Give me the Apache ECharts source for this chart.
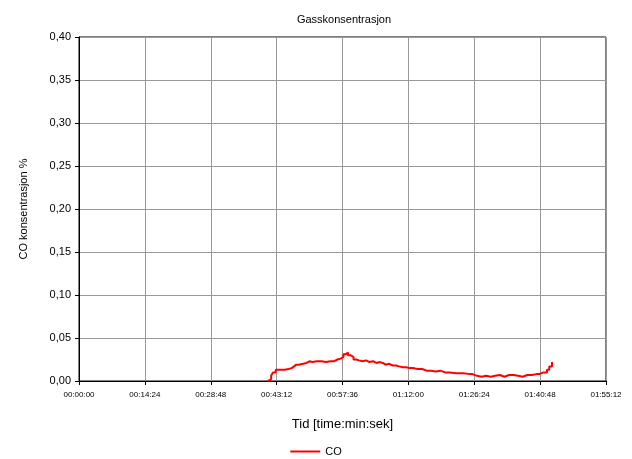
<!DOCTYPE html>
<html><head><meta charset="utf-8">
<script src="https://cdn.jsdelivr.net/npm/echarts@6/dist/echarts.min.js"></script>
<style>html,body{margin:0;padding:0;background:#fff}#c{width:632px;height:459px}</style>
</head><body><div id="c"></div>
<script>
// time in minutes since start
const timeMin = [41.3,41.6,42.0,42.4,43.0,44.0,45.0,45.8,46.5,47.0,47.5,48.0,49.0,49.7,50.5,51.0,52.0,53.0,54.0,55.0,55.8,56.5,57.2,57.8,58.3,58.8,59.3,60.0,60.6,61.2,62.0,62.8,63.5,64.3,65.0,65.8,66.4,67.0,67.8,68.6,69.3,70.0,70.8,71.5,72.3,73.0,74.0,75.0,76.0,77.0,78.0,79.0,80.0,81.0,82.5,84.0,85.5,86.0,87.0,88.0,89.0,90.0,91.0,92.0,93.0,94.0,95.0,96.0,97.0,98.0,99.0,100.0,100.6,101.5,102.3,102.8,103.4];
const coValues = [0,0.002,0.006,0.010,0.013,0.013,0.014,0.015,0.017,0.019,0.019,0.020,0.021,0.023,0.022,0.023,0.023,0.022,0.023,0.023,0.025,0.026,0.028,0.031,0.033,0.030,0.028,0.025,0.024,0.023,0.024,0.022,0.023,0.021,0.022,0.021,0.019,0.020,0.018,0.018,0.017,0.016,0.016,0.015,0.015,0.014,0.014,0.012,0.012,0.011,0.012,0.010,0.010,0.009,0.009,0.008,0.008,0.006,0.005,0.006,0.005,0.006,0.007,0.005,0.007,0.007,0.006,0.005,0.007,0.007,0.008,0.008,0.010,0.010,0.013,0.017,0.022];
const titleText = 'Gasskonsentrasjon';
const xName = 'Tid [time:min:sek]';
const yName = 'CO konsentrasjon %';
const seriesName = 'CO';

function fmtTime(m){
  const s = Math.round(m*60);
  const h = Math.floor(s/3600), mm = Math.floor((s%3600)/60), ss = s%60;
  const p = n => String(n).padStart(2,'0');
  return p(h)+':'+p(mm)+':'+p(ss);
}
const chart = echarts.init(document.getElementById('c'));
const font = 'Liberation Sans, Arial, sans-serif';
chart.setOption({
  animation:false,
  textStyle:{fontFamily:font},
  title:{text:titleText,left:339,top:9,textAlign:'center',textStyle:{fontSize:11,fontWeight:'normal',color:'#000',fontFamily:font}},
  grid:{left:79,right:26,top:37,bottom:78,show:true,borderColor:'#000',borderWidth:1},
  legend:{data:[{name:seriesName,icon:'rect'}],top:446,padding:0,left:'center',itemWidth:30,itemHeight:2,textStyle:{fontSize:11,color:'#000'}},
  xAxis:{type:'value',min:0,max:115.2,interval:14.4,name:xName,nameLocation:'middle',nameGap:37,
    nameTextStyle:{fontSize:13,color:'#000'},
    axisLine:{lineStyle:{color:'#000'}},axisTick:{show:true,length:4,lineStyle:{color:'#000'}},
    axisLabel:{fontSize:8,color:'#000',margin:10,formatter:v=>fmtTime(v)},
    splitLine:{show:true,lineStyle:{color:'#999',width:1}}},
  yAxis:{type:'value',min:0,max:0.4,interval:0.05,name:yName,nameLocation:'middle',nameGap:50,
    nameTextStyle:{fontSize:11,color:'#000'},
    axisLine:{show:true,lineStyle:{color:'#000'}},axisTick:{show:true,length:4,lineStyle:{color:'#000'}},
    axisLabel:{fontSize:11,color:'#000',formatter:v=>v.toFixed(2).replace('.',',')},
    splitLine:{show:true,lineStyle:{color:'#999',width:1}}},
  series:[{name:seriesName,type:'line',step:'end',showSymbol:false,
    data:timeMin.map((t,i)=>[t,coValues[i]]),
    lineStyle:{color:'#ff0000',width:2},itemStyle:{color:'#ff0000'}}]
});
</script></body></html>
